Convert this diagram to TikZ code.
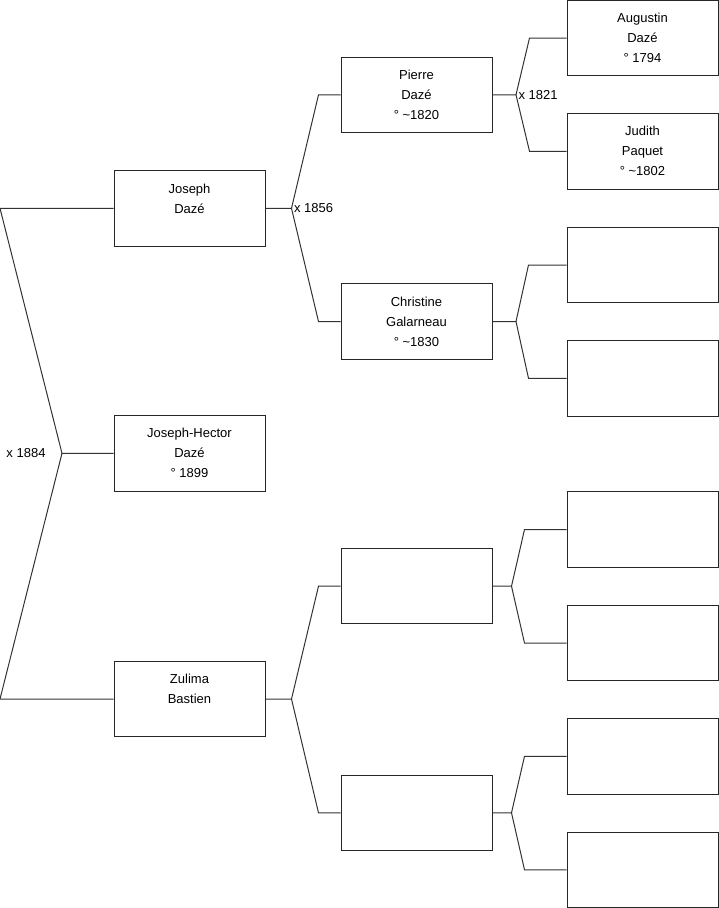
\documentclass[tikz,border=0pt]{standalone}
\usepackage{fontspec}
\setmainfont{Liberation Sans}
\usetikzlibrary{positioning}

\begin{document}
\begin{tikzpicture}[
  x=1pt, y=-1pt,
  font=\fontsize{13}{20}\selectfont,
  line width=1pt,
  person/.style={
    draw=black!85,
    align=center,
    minimum width=151pt,
    minimum height=75.5pt,
    inner sep=0pt
  },
  link/.style={draw=black!80, line join=miter},
  union/.style={inner sep=2pt}
]
\useasboundingbox (0,0) rectangle (719,908);
\coordinate (edge) at (0,0);

% =========================
% Generation 1 and 2
% =========================
\node[person] (hector) at (189.5,453.3) {Joseph-Hector\\Dazé\\° 1899};
\node[person] (joseph) at (189.5,208.3) {Joseph\\Dazé\\\mbox{}};
\node[person] (zulima) at (189.5,699) {Zulima\\Bastien\\\mbox{}};

% =========================
% Generation 3
% =========================
\node[person] (pierre) at (416.5,94.8) {Pierre\\Dazé\\° \textasciitilde1820};
\node[person] (christine) at (416.5,321.5) {Christine\\Galarneau\\° \textasciitilde1830};
\node[person] (zpere) at (416.5,586.2) {};
\node[person] (zmere) at (416.5,812.8) {};

% =========================
% Generation 4
% =========================
\node[person] (augustin) at (642.5,38) {Augustin\\Dazé\\° 1794};
\node[person] (judith) at (642.5,151.3) {Judith\\Paquet\\° \textasciitilde1802};
\node[person] (cpere) at (642.5,265) {};
\node[person] (cmere) at (642.5,378.3) {};
\node[person] (zpp) at (642.5,529.5) {};
\node[person] (zpm) at (642.5,643) {};
\node[person] (zmp) at (642.5,756.3) {};
\node[person] (zmm) at (642.5,869.8) {};

% =========================
% Unions
% =========================
\coordinate (m1884) at (62,453.3);
\coordinate (m1856) at ([xshift=26pt]joseph.east);
\coordinate (mzul) at ([xshift=26pt]zulima.east);
\coordinate (m1821) at ([xshift=23.5pt]pierre.east);
\coordinate (mchr) at ([xshift=23.5pt]christine.east);
\coordinate (mzpere) at ([xshift=19pt]zpere.east);
\coordinate (mzmere) at ([xshift=19pt]zmere.east);

\node[union, left=14pt of m1884] (l1884) {x 1884};
\node[union, right=0pt of m1856] (l1856) {x 1856};
\node[union, right=0pt of m1821] (l1821) {x 1821};

\draw[link] (hector.west) -- (m1884) -- (joseph.west -| edge) -- (joseph.west);
\draw[link] (m1884) -- (zulima.west -| edge) -- (zulima.west);

\draw[link] (joseph.east) -- (m1856) -- ([xshift=-22pt]pierre.west) -- (pierre.west);
\draw[link] (m1856) -- ([xshift=-22pt]christine.west) -- (christine.west);
\draw[link] (zulima.east) -- (mzul) -- ([xshift=-22pt]zpere.west) -- (zpere.west);
\draw[link] (mzul) -- ([xshift=-22pt]zmere.west) -- (zmere.west);

\draw[link] (pierre.east) -- (m1821) -- ([xshift=-37pt]augustin.west) -- (augustin.west);
\draw[link] (m1821) -- ([xshift=-37pt]judith.west) -- (judith.west);
\draw[link] (christine.east) -- (mchr) -- ([xshift=-38pt]cpere.west) -- (cpere.west);
\draw[link] (mchr) -- ([xshift=-38pt]cmere.west) -- (cmere.west);
\draw[link] (zpere.east) -- (mzpere) -- ([xshift=-42pt]zpp.west) -- (zpp.west);
\draw[link] (mzpere) -- ([xshift=-42pt]zpm.west) -- (zpm.west);
\draw[link] (zmere.east) -- (mzmere) -- ([xshift=-42pt]zmp.west) -- (zmp.west);
\draw[link] (mzmere) -- ([xshift=-42pt]zmm.west) -- (zmm.west);

\end{tikzpicture}
\end{document}
